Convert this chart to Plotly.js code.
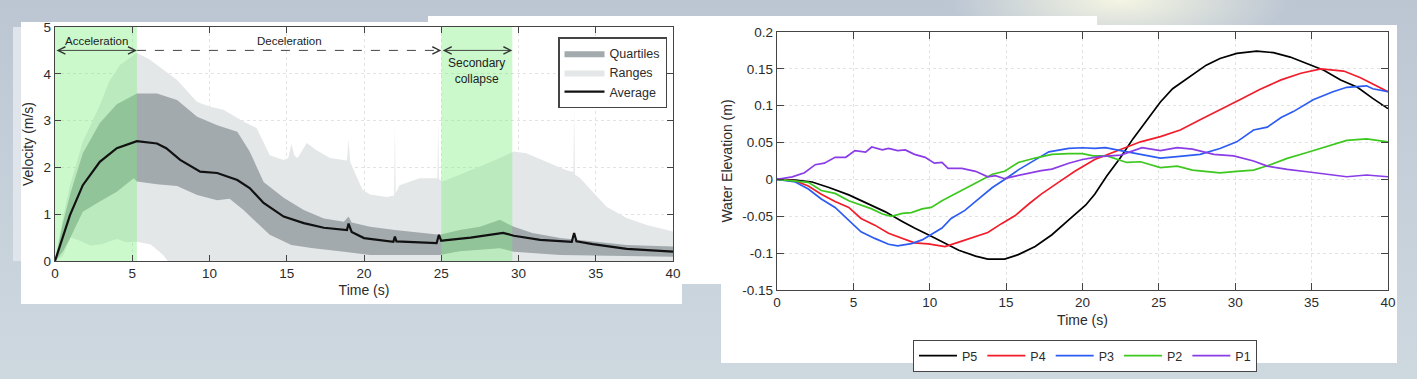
<!DOCTYPE html>
<html>
<head>
<meta charset="utf-8">
<script src="https://cdn.plot.ly/plotly-3.0.1.min.js"></script>
<style>
html,body{margin:0;padding:0;width:1417px;height:379px;overflow:hidden;}
body{background:
 radial-gradient(ellipse 170px 55px at 1120px 0px, rgba(248,248,228,0.95), rgba(248,248,228,0) 100%),
 linear-gradient(to bottom, #bcc6d3 0%, #c5cfd9 45%, #cdd8df 100%);}
#chart{width:1417px;height:379px;}
</style>
</head>
<body>
<div id="chart"></div>
<script>
// ---------- Left chart: velocity statistics ----------
const rangeT    = [0,0.5,1.0,1.5,2.3,3.0,4.0,4.6,5.3,6.2,7.0,7.3,40];
const rangeLow  = [0,0.1,0.5,0.45,0.33,0.36,0.47,0.4,0.41,0.35,0.13,0,0];
const rangeHiT  = [0,0.5,0.97,1.8,2.9,3.5,4.2,5.1,5.3,6.15,7.0,7.9,9.2,10.0,10.9,12.2,13.05,13.5,13.9,14.8,15.1,15.3,15.5,15.7,16.3,16.9,17.8,18.9,19.0,19.1,19.5,19.9,20.4,21.5,21.95,22.0,22.05,22.3,23.6,24.75,24.8,24.85,25.1,26.2,27.3,28.8,29.7,30.5,31.8,33.1,33.55,33.6,33.65,34.0,34.8,35.7,37.0,38.3,40];
const rangeHigh = [0,0.9,1.62,2.55,3.33,3.83,4.19,4.4,4.45,4.3,4.1,3.87,3.4,3.3,3.23,2.98,2.84,2.55,2.26,2.16,2.2,2.5,2.25,2.2,2.52,2.37,2.2,2.15,2.6,2.12,1.8,1.52,1.42,1.37,1.4,2.9,1.45,1.62,1.77,1.77,3.0,1.75,1.7,1.84,1.99,2.2,2.34,2.3,2.12,1.94,1.9,3.3,1.85,1.77,1.48,1.16,0.92,0.77,0.63];
const quartLoT  = [0,0.5,1.0,1.8,2.9,4.0,5.1,5.3,6.6,7.9,9.2,10.5,11.3,12.2,13.0,13.9,15.3,16.6,18.7,20.4,24.9,26.2,28.8,29.7,32.7,37.0,40];
const quartLow  = [0,0.2,0.5,1.05,1.27,1.48,1.77,1.7,1.64,1.6,1.41,1.3,1.33,1.09,0.84,0.56,0.34,0.28,0.2,0.13,0.13,0.21,0.27,0.2,0.13,0.1,0.09];
const quartHiT  = [0,0.5,1.0,1.8,2.9,4.0,5.3,6.6,7.9,9.2,10.5,11.8,12.6,13.5,14.8,16.1,17.4,18.7,19.0,19.2,20.4,22.0,24.9,26.2,27.5,28.8,29.7,30.9,32.7,34.8,37.0,40];
const quartHigh = [0,0.8,1.45,2.3,2.95,3.35,3.58,3.58,3.44,3.08,2.9,2.76,2.34,1.69,1.35,1.09,0.91,0.84,0.95,0.82,0.73,0.66,0.56,0.66,0.73,0.88,0.73,0.6,0.49,0.41,0.34,0.31];
const avgT      = [0,0.3,0.97,1.8,2.9,4.0,5.3,6.6,7.2,8.1,9.4,10.5,11.8,12.6,13.5,14.8,16.1,17.4,18.9,19.0,19.2,20.0,20.4,21.9,22.0,22.1,24.7,24.85,25.0,25.2,26.9,29.0,29.7,31.4,33.45,33.6,33.75,34.8,37.0,40];
const avgVel    = [0,0.3,0.98,1.62,2.12,2.41,2.56,2.51,2.41,2.16,1.91,1.88,1.73,1.56,1.24,0.95,0.81,0.71,0.66,0.8,0.62,0.49,0.47,0.41,0.52,0.42,0.38,0.56,0.43,0.44,0.5,0.6,0.54,0.45,0.41,0.6,0.42,0.36,0.26,0.2];
const phaseStart = [0, 25];
const phaseEnd   = [5.3, 29.6];
const decelSpan  = [5.3, 25];
const velMax = 5;

// ---------- Right chart: water elevation ----------
const p5T = [0,1.2,2.3,3.4,4.7,6.0,7.1,8.2,9.0,10.1,11.0,11.9,13.0,13.8,14.9,15.8,16.9,18.0,19.1,20.2,20.8,21.6,22.5,23.3,24.2,25.1,25.9,27.0,28.1,29.0,30.1,31.4,32.5,33.6,34.7,35.8,36.9,38.0,39.0,40];
const p5  = [0,-0.001,-0.0035,-0.011,-0.021,-0.033,-0.044,-0.057,-0.066,-0.077,-0.086,-0.096,-0.104,-0.108,-0.108,-0.102,-0.091,-0.075,-0.055,-0.035,-0.02,0.005,0.03,0.055,0.08,0.105,0.123,0.139,0.155,0.164,0.171,0.174,0.172,0.166,0.157,0.148,0.135,0.125,0.11,0.096];
const p4T = [0,1.2,2.05,2.9,3.8,4.7,5.5,6.4,7.3,8.2,9.0,9.9,11.0,11.9,13.0,13.8,14.7,15.6,16.5,17.3,18.4,19.5,20.8,22.5,23.8,25.1,26.4,27.7,29.0,30.3,31.6,33.0,34.3,35.6,37.1,38.2,40];
const p4  = [0,-0.002,-0.009,-0.02,-0.03,-0.038,-0.053,-0.062,-0.073,-0.08,-0.086,-0.0875,-0.091,-0.085,-0.077,-0.072,-0.06,-0.049,-0.033,-0.02,-0.0044,0.011,0.027,0.04,0.051,0.058,0.067,0.081,0.094,0.108,0.122,0.135,0.144,0.15,0.147,0.138,0.119];
const p3T = [0,1.2,2.05,2.9,3.8,4.7,5.5,6.4,7.3,7.9,8.8,9.5,10.1,10.8,11.4,12.3,13.2,14.1,14.9,15.8,16.9,17.8,19.1,20.0,20.8,21.5,22.5,23.8,25.1,26.2,27.7,29.0,30.1,31.2,32.1,33.0,33.8,35.1,36.4,37.3,38.6,39.0,40];
const p3  = [0,-0.0035,-0.013,-0.0265,-0.038,-0.055,-0.071,-0.08,-0.088,-0.09,-0.087,-0.082,-0.075,-0.066,-0.053,-0.042,-0.0265,-0.011,0,0.013,0.0265,0.0375,0.042,0.043,0.042,0.043,0.039,0.034,0.029,0.031,0.034,0.042,0.051,0.067,0.071,0.084,0.092,0.108,0.119,0.125,0.127,0.123,0.119];
const p2T = [0,1.2,2.05,2.9,3.8,4.7,5.3,6.2,6.9,7.5,8.2,8.8,9.5,10.1,10.8,11.7,12.5,13.4,14.1,14.9,15.8,16.9,18.0,19.1,20.0,20.7,21.6,22.9,23.8,25.1,26.2,27.2,29.0,30.1,31.2,32.1,33.4,34.7,36.0,37.3,38.6,40];
const p2  = [0,-0.002,-0.004,-0.015,-0.019,-0.029,-0.033,-0.04,-0.047,-0.05,-0.046,-0.045,-0.04,-0.038,-0.029,-0.019,-0.011,-0.001,0.007,0.011,0.023,0.029,0.034,0.035,0.035,0.032,0.032,0.023,0.024,0.016,0.018,0.0127,0.009,0.011,0.0127,0.0185,0.0285,0.0366,0.045,0.053,0.055,0.051];
const p1T = [0,1,1.8,2.5,3.1,3.8,4.5,5.1,5.8,6.2,6.9,7.3,7.9,8.4,9.0,9.7,10.3,10.8,11.2,12.1,13.0,13.8,14.3,14.9,15.6,16.5,17.3,18.0,19.1,20.0,21.1,22.5,23.9,25.1,26.2,27.2,28.6,29.9,31.2,32.1,33.4,34.7,36.0,37.3,38.6,40];
const p1  = [0,0.0035,0.009,0.02,0.022,0.03,0.03,0.039,0.037,0.044,0.04,0.042,0.039,0.04,0.034,0.03,0.022,0.023,0.015,0.015,0.011,0.0035,0.005,0.001,0.0045,0.009,0.012,0.014,0.022,0.027,0.031,0.033,0.043,0.039,0.043,0.041,0.034,0.032,0.025,0.018,0.0136,0.0104,0.007,0.0036,0.006,0.0036];
const seriesNames  = ['P5','P4','P3','P2','P1'];
const seriesColors = ['#000000','#f21d2b','#2c5cf2','#3cc81e','#8a3de6'];
const elevTicks = [-0.15,-0.1,-0.05,0,0.05,0.1,0.15,0.2];
const elevTickText = ['-0.15','-0.1','-0.05','0','0.05','0.1','0.15','0.2'];

// ---------- helpers (pixel -> paper) ----------
const W = 1417, H = 379;
const px = v => v / W;
const py = v => 1 - v / H;
const FONT = 'Liberation Sans, Arial, sans-serif';

const traces = [];
traces.push({x: rangeT, y: rangeLow, xaxis:'x', yaxis:'y', mode:'lines', line:{width:0}, showlegend:false, hoverinfo:'skip'});
traces.push({x: rangeHiT, y: rangeHigh, xaxis:'x', yaxis:'y', mode:'lines', line:{width:0}, fill:'tonexty', fillcolor:'#e4e7e8', name:'Ranges', legend:'legend', legendrank:2});
traces.push({x: quartLoT, y: quartLow, xaxis:'x', yaxis:'y', mode:'lines', line:{width:0}, showlegend:false, hoverinfo:'skip'});
traces.push({x: quartHiT, y: quartHigh, xaxis:'x', yaxis:'y', mode:'lines', line:{width:0}, fill:'tonexty', fillcolor:'#a2aaad', name:'Quartiles', legend:'legend', legendrank:1});
for (let i = 0; i < phaseStart.length; i++) {
  traces.push({x:[phaseStart[i], phaseEnd[i], phaseEnd[i], phaseStart[i], phaseStart[i]],
               y:[0, 0, velMax, velMax, 0], xaxis:'x', yaxis:'y', mode:'lines', line:{width:0},
               fill:'toself', fillcolor:'rgba(120,240,120,0.38)', showlegend:false, hoverinfo:'skip'});
}
traces.push({x: avgT, y: avgVel, xaxis:'x', yaxis:'y', mode:'lines', line:{color:'#111', width:2.2}, name:'Average', legend:'legend', legendrank:3});

const rightT = [p5T, p4T, p3T, p2T, p1T];
const rightV = [p5, p4, p3, p2, p1];
for (let i = 0; i < seriesNames.length; i++) {
  traces.push({x: rightT[i], y: rightV[i], xaxis:'x2', yaxis:'y2', mode:'lines', name: seriesNames[i],
               line:{color: seriesColors[i], width:1.7}, legend:'legend2'});
}

const axisCommon = {
  showline:true, mirror:'ticks', ticks:'inside', ticklen:6, tickwidth:1, tickcolor:'#444',
  linecolor:'#444', linewidth:1.2, showgrid:true, gridcolor:'#e3e3e3', griddash:'dot', gridwidth:1,
  zeroline:false, tickfont:{family:FONT, size:13.5, color:'#2b2b2b'}, automargin:false
};

const layout = {
  width: W, height: H,
  margin:{l:0, r:0, t:0, b:0},
  paper_bgcolor:'rgba(0,0,0,0)', plot_bgcolor:'#ffffff',
  font:{family:FONT, color:'#2b2b2b'},
  xaxis: Object.assign({}, axisCommon, {domain:[px(55), px(673)], range:[0,40], dtick:5, tick0:0, anchor:'y',
          title:{text:'Time (s)', font:{family:FONT, size:14, color:'#2b2b2b'}, standoff:4}}),
  yaxis: Object.assign({}, axisCommon, {domain:[py(261), py(27)], range:[0,5], dtick:1, anchor:'x',
          title:{text:'Velocity (m/s)', font:{family:FONT, size:14, color:'#2b2b2b'}, standoff:6}}),
  xaxis2: Object.assign({}, axisCommon, {domain:[px(777), px(1388)], range:[0,40], dtick:5, tick0:0, anchor:'y2', ticklen:7,
          title:{text:'Time (s)', font:{family:FONT, size:14, color:'#2b2b2b'}, standoff:5}}),
  yaxis2: Object.assign({}, axisCommon, {domain:[py(290), py(32)], range:[-0.15,0.2], tickvals:elevTicks, ticktext:elevTickText, anchor:'x2', ticklen:7,
          title:{text:'Water Elevation (m)', font:{family:FONT, size:14, color:'#2b2b2b'}, standoff:6}}),
  legend:{x:px(558), y:py(37), xanchor:'left', yanchor:'top', bgcolor:'#ffffff', bordercolor:'#444', borderwidth:1.5,
          font:{family:FONT, size:12.5, color:'#2b2b2b'}, itemwidth:40, tracegroupgap:0, traceorder:'normal'},
  legend2:{x:px(913), y:py(340), xanchor:'left', yanchor:'top', orientation:'h', bgcolor:'#ffffff', bordercolor:'#444', borderwidth:1,
          font:{family:FONT, size:12.5, color:'#2b2b2b'}, itemwidth:38},
  shapes:[
    {type:'rect', xref:'paper', yref:'paper', x0:px(13), x1:px(21), y0:py(261), y1:py(27), fillcolor:'#dfe5ea', line:{width:0}, layer:'below'},
    {type:'rect', xref:'paper', yref:'paper', x0:px(21), x1:px(682), y0:py(304), y1:py(22), fillcolor:'#ffffff', line:{width:0}, layer:'below'},
    {type:'rect', xref:'paper', yref:'paper', x0:px(428), x1:px(1097), y0:py(25), y1:py(16), fillcolor:'#ffffff', line:{width:0}, layer:'below'},
    {type:'rect', xref:'paper', yref:'paper', x0:px(682), x1:px(721), y0:py(284), y1:py(16), fillcolor:'#ffffff', line:{width:0}, layer:'below'},
    {type:'rect', xref:'paper', yref:'paper', x0:px(721), x1:px(1397), y0:py(363), y1:py(25), fillcolor:'#ffffff', line:{width:0}, layer:'below'},
    {type:'line', xref:'x', yref:'y', x0:decelSpan[0], x1:decelSpan[1], y0:4.5, y1:4.5, line:{color:'#444', width:1, dash:'dash'}}
  ],
  annotations:[
    {x:phaseEnd[0], y:4.5, ax:phaseStart[0], ay:4.5, xref:'x', yref:'y', axref:'x', ayref:'y', text:'', showarrow:true,
     arrowside:'end+start', arrowhead:5, startarrowhead:5, arrowsize:1.6, startarrowsize:1.6, arrowwidth:0.9, arrowcolor:'#333'},
    {x:phaseEnd[1], y:4.5, ax:phaseStart[1], ay:4.5, xref:'x', yref:'y', axref:'x', ayref:'y', text:'', showarrow:true,
     arrowside:'end+start', arrowhead:5, startarrowhead:5, arrowsize:1.6, startarrowsize:1.6, arrowwidth:0.9, arrowcolor:'#333'},
    {x:decelSpan[1], y:4.5, ax:decelSpan[1]-0.3, ay:4.5, xref:'x', yref:'y', axref:'x', ayref:'y', text:'', showarrow:true,
     arrowhead:5, arrowsize:1.6, arrowwidth:0.9, arrowcolor:'#333'},
    {x:2.7, y:4.7, xref:'x', yref:'y', text:'Acceleration', showarrow:false, font:{family:FONT, size:11.5, color:'#222'}},
    {x:15.2, y:4.7, xref:'x', yref:'y', text:'Deceleration', showarrow:false, font:{family:FONT, size:11.5, color:'#222'}},
    {x:27.3, y:4.05, xref:'x', yref:'y', text:'Secondary<br>collapse', showarrow:false, font:{family:FONT, size:12, color:'#222'}}
  ]
};

Plotly.newPlot('chart', traces, layout, {staticPlot:true, displayModeBar:false});
</script>
</body>
</html>
